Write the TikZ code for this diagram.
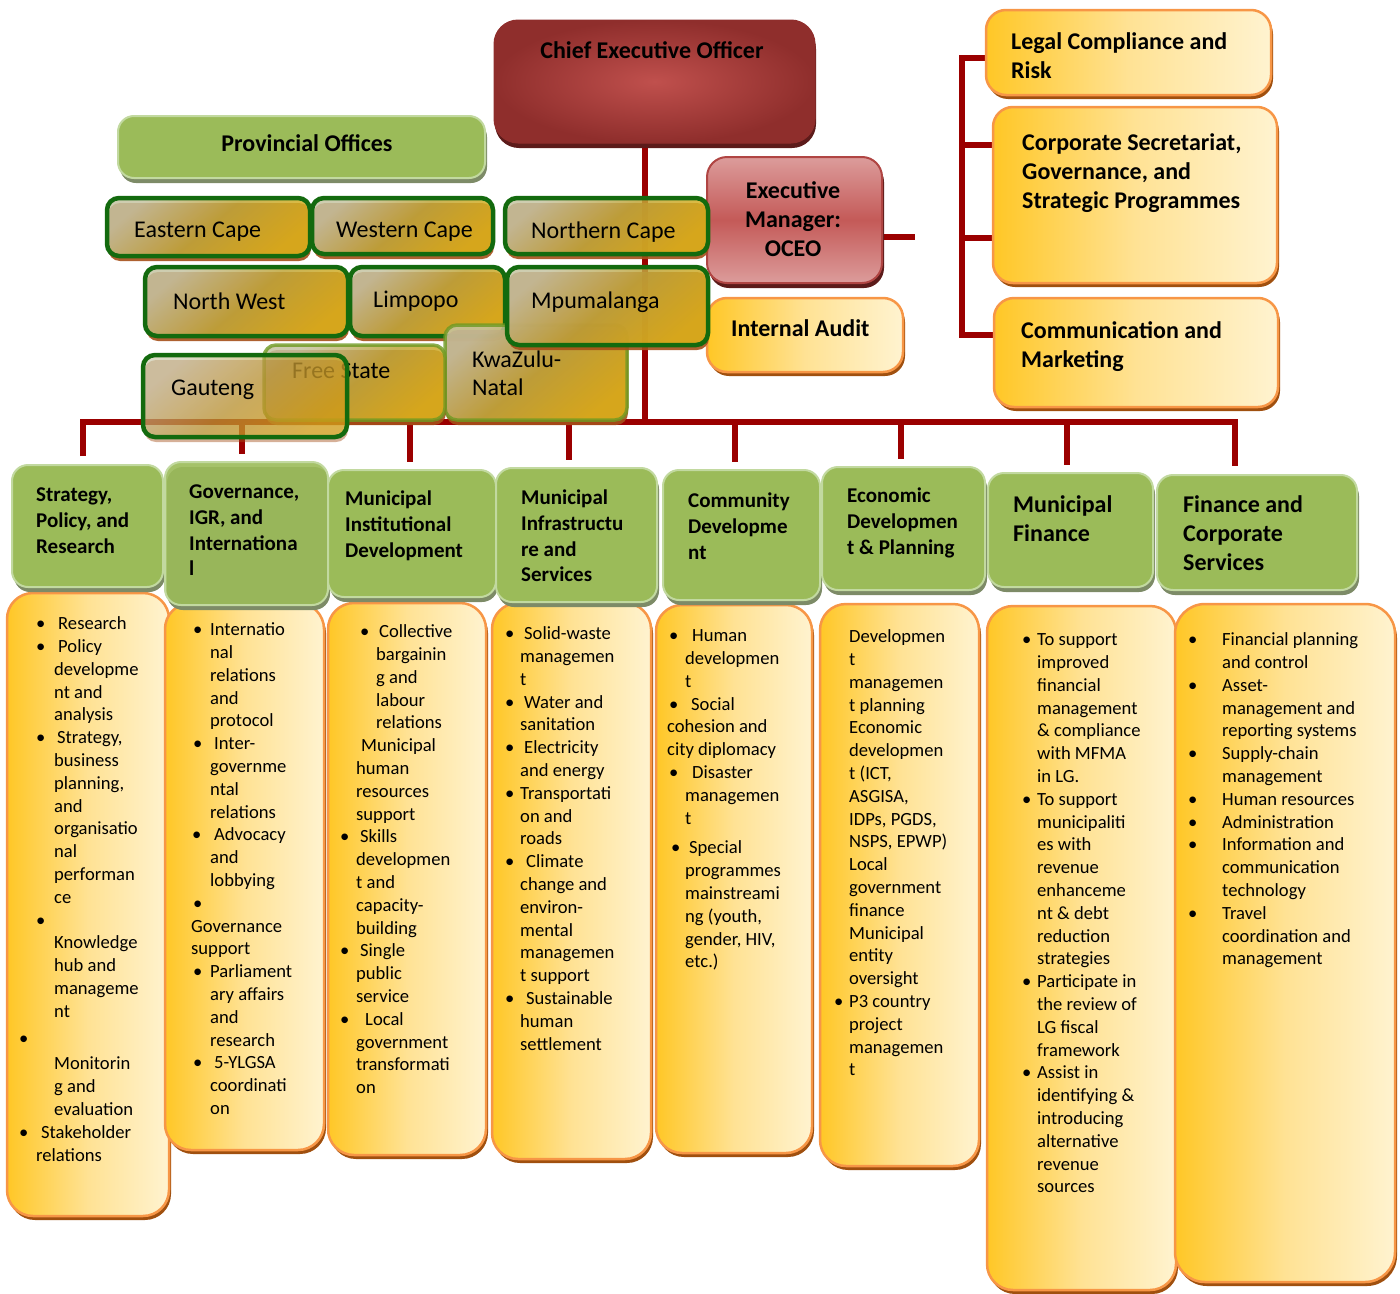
\documentclass[tikz,border=0pt]{standalone}
\usepackage{fontspec}
\setmainfont{Carlito}
\usetikzlibrary{shadows,backgrounds}

\definecolor{linered}{HTML}{9B0000}
\definecolor{ceodark}{HTML}{8F2E2C}
\definecolor{ceomid}{HTML}{C0504D}
\definecolor{redshade}{HTML}{5C1B1A}
\definecolor{execlight}{HTML}{DC9C9B}
\definecolor{execmid}{HTML}{C45A58}
\definecolor{execedge}{HTML}{B04543}
\definecolor{yelstrong}{HTML}{FFC726}
\definecolor{yelmid}{HTML}{FFE294}
\definecolor{yelpale}{HTML}{FFF3D0}
\definecolor{yeledge}{HTML}{F79646}
\definecolor{yelshade}{HTML}{A0500F}
\definecolor{hdgreen}{HTML}{9BBB59}
\definecolor{hdlight}{HTML}{C2D9A0}
\definecolor{hdshade}{HTML}{7D8B67}
\definecolor{provtop}{HTML}{C6C4A2}
\definecolor{provmid}{HTML}{C0A63A}
\definecolor{provbot}{HTML}{DDB318}
\definecolor{provedge}{HTML}{136A0E}
\definecolor{provedgelt}{HTML}{6E9A22}
\definecolor{provshade}{HTML}{A5501A}

\newcommand{\bodyfont}{\fontsize{18.6}{22.8}\selectfont}
\newcommand{\headfont}{\fontsize{21}{25.8}\selectfont\bfseries}
\newcommand{\bigfont}{\fontsize{24}{29}\selectfont\bfseries}
\newcommand{\provfont}{\fontsize{24}{28}\selectfont}

\newcommand{\orgbox}[5] {\node at (#1) (#2) [#3, minimum width=#4, minimum height=#5] {};}
\newcommand{\orgtext}[4] {\node at (#1) (#2) [#3] {#4};}
\newcommand{\bul}[2]{\hspace*{#1pt}\makebox[#2pt][l]{\textbullet}}
\newcommand{\ind}[1]{\hspace*{#1pt}}

\tikzset{
  orgline/.style={draw=linered, line width=6pt},
  ceobox/.style={rectangle, rounded corners=24pt, draw=ceodark, line width=1pt,
    inner color=ceomid, outer color=ceodark,
    drop shadow={shadow xshift=1pt, shadow yshift=-5pt, fill=redshade, opacity=1}},
  execbox/.style={rectangle, rounded corners=20pt, draw=execedge, line width=2pt,
    top color=execlight, bottom color=execlight, middle color=execmid,
    drop shadow={shadow xshift=2pt, shadow yshift=-5pt, fill=redshade, opacity=1}},
  yelbox/.style={rectangle, rounded corners=20pt, draw=yeledge, line width=2.5pt,
    left color=yelstrong, right color=yelpale, middle color=yelmid,
    drop shadow={shadow xshift=2pt, shadow yshift=-4pt, fill=yelshade, opacity=1}},
  greenbox/.style={rectangle, rounded corners=16pt, fill=hdgreen, draw=hdlight, line width=2pt,
    drop shadow={shadow xshift=2pt, shadow yshift=-5pt, fill=hdshade, opacity=1}},
  provbox/.style={rectangle, rounded corners=12pt, draw=provedge, line width=4.5pt,
    top color=provtop, bottom color=provbot, middle color=provmid, shading angle=40,
    fill opacity=0.85,
    drop shadow={shadow xshift=1pt, shadow yshift=-5pt, fill=provshade, opacity=0.9}},
  provfaint/.style={provbox, draw=provedgelt, line width=3.5pt, draw opacity=0.8},
  provclear/.style={rectangle, rounded corners=12pt, draw=provedge, line width=4.5pt,
    top color=provtop, bottom color=provbot, middle color=provmid, shading angle=40,
    fill opacity=0.6,
    drop shadow={shadow xshift=1pt, shadow yshift=-5pt, fill=provshade, opacity=0.45}},
  toptext/.style={inner sep=0pt, font=\bigfont},
  provtext/.style={inner sep=0pt, anchor=west, font=\provfont},
  headtext/.style={inner sep=0pt, anchor=north west, align=left, font=\headfont},
  bodytext/.style={inner sep=0pt, anchor=north west, align=left, font=\bodyfont}
}

\begin{document}
\begin{tikzpicture}[x=1pt, y=-1pt]

\useasboundingbox (0,0) rectangle (1400,1293);

% top of the chart
\orgbox {654.5,81.5}{ceo}{ceobox}{321}{123}
\orgtext {652,50}{ceotxt}{toptext}{Chief Executive Officer}
\orgbox {794.5,220}{exec}{execbox}{175}{126}
\orgtext {793,219}{exectxt}{toptext, align=center}{Executive\\Manager:\\OCEO}
\orgbox {805,335}{audit}{yelbox}{196}{74}
\orgtext {731,328}{audittxt}{toptext, anchor=west}{Internal Audit}

\orgbox {1128.5,52.5}{legal}{yelbox}{285}{85}
\orgtext {1011,28.7}{legaltxt}{toptext, anchor=north west, align=left}{\strut Legal Compliance and\\Risk}
\orgbox {1135,195}{corp}{yelbox}{284}{176}
\orgtext {1022,129.7}{corptxt}{toptext, anchor=north west, align=left}{\strut Corporate Secretariat,\\Governance, and\\Strategic Programmes}
\orgbox {1136,352.5}{comms}{yelbox}{284}{109}
\orgtext {1021,317.7}{commstxt}{toptext, anchor=north west, align=left}{\strut Communication and\\Marketing}

% provinces
\orgbox {301.5,147}{provoff}{greenbox}{367}{62}
\orgtext {307,143}{provofftxt}{toptext}{Provincial Offices}

\orgbox {208.5,227}{ecape}{provbox}{203}{58}
\orgtext {134,232}{ecapetxt}{provtext}{Eastern Cape}
\orgbox {402.5,226}{wcape}{provbox}{181}{56}
\orgtext {336,232}{wcapetxt}{provtext}{Western Cape}
\orgbox {606.5,226}{ncape}{provbox}{203}{56}
\orgtext {531,232}{ncapetxt}{provtext}{Northern Cape}
\orgbox {246.5,301.5}{nwest}{provbox}{203}{69}
\orgtext {173,301}{nwesttxt}{provtext}{North West}
\orgbox {427.5,301.5}{limpopo}{provbox}{155}{69}
\orgtext {373,301}{limpopotxt}{provtext}{Limpopo}
\orgbox {536,372.5}{kzn}{provfaint}{182}{95}
\orgtext {472,347.4}{kzntxt}{provtext, anchor=north west, align=left}{\strut KwaZulu-\\Natal}
\orgbox {607.5,306}{mpuma}{provbox}{201}{78}
\orgtext {531,302}{mpumatxt}{provtext}{Mpumalanga}
\orgbox {354.5,382.5}{fstate}{provfaint}{181}{75}
\orgtext {292,371}{fstatetxt}{provtext}{Free State}
\orgbox {245,396}{gauteng}{provclear}{204}{82}
\orgtext {171,390}{gautengtxt}{provtext}{Gauteng}

% function columns
\orgbox {88,904.5}{bx1}{yelbox, rounded corners=26pt}{162}{623}
\orgbox {244.5,876.5}{bx2}{yelbox, rounded corners=26pt}{159}{547}
\orgbox {407,879}{bx3}{yelbox, rounded corners=26pt}{158}{552}
\orgbox {571.5,881}{bx4}{yelbox, rounded corners=26pt}{159}{556}
\orgbox {734,879}{bx5}{yelbox, rounded corners=26pt}{156}{548}
\orgbox {899.5,885}{bx6}{yelbox, rounded corners=26pt}{159}{562}
\orgbox {1081.5,948}{bx7}{yelbox, rounded corners=26pt}{189}{684}
\orgbox {1285,943}{bx8}{yelbox, rounded corners=30pt}{220}{678}

\orgbox {87.5,526}{hd1}{greenbox}{151}{122}
\orgbox {246.5,533.5}{hd2}{greenbox, fill opacity=0.9}{163}{143}
\orgbox {412,533.5}{hd3}{greenbox}{168}{127}
\orgbox {576.5,535}{hd4}{greenbox}{161}{134}
\orgbox {741.5,535}{hd5}{greenbox}{157}{130}
\orgbox {903.5,528.5}{hd6}{greenbox}{163}{123}
\orgbox {1070.5,530}{hd7}{greenbox}{165}{114}
\orgbox {1257,532.5}{hd8}{greenbox}{200}{115}

\orgtext {36,483.2}{hd1txt}{headtext}{\strut Strategy,\\Policy, and\\Research}
\orgtext {189,480.2}{hd2txt}{headtext}{\strut Governance,\\IGR, and\\Internationa\\l}
\orgtext {345,487.2}{hd3txt}{headtext}{\strut Municipal\\Institutional\\Development}
\orgtext {521,486.2}{hd4txt}{headtext}{\strut Municipal\\Infrastructu\\re and\\Services}
\orgtext {688,489.2}{hd5txt}{headtext}{\strut Community\\Developme\\nt}
\orgtext {847,484.2}{hd6txt}{headtext}{\strut Economic\\Developmen\\t \& Planning}
\orgtext {1013,491.7}{hd7txt}{headtext, font=\bigfont}{\strut Municipal\\Finance}
\orgtext {1183,491.7}{hd8txt}{headtext, font=\bigfont}{\strut Finance and\\Corporate\\Services}

\orgtext {19,613.5}{bx1txt}{bodytext}{\strut\bul{17}{22}Research\\
\bul{17}{22}Policy\\ \ind{35}developme\\ \ind{35}nt and\\ \ind{35}analysis\\
\bul{17}{21}Strategy,\\ \ind{35}business\\ \ind{35}planning,\\ \ind{35}and\\
\ind{35}organisatio\\ \ind{35}nal\\ \ind{35}performan\\ \ind{35}ce\\
\bul{17}{0}\\ \ind{35}Knowledge\\ \ind{35}hub and\\ \ind{35}manageme\\ \ind{35}nt\\[4pt]
\bul{0}{0}\\[3pt] \ind{35}Monitorin\\ \ind{35}g and\\ \ind{35}evaluation\\
\bul{0}{22}Stakeholder\\ \ind{17}relations}

\orgtext {191,619.5}{bx2txt}{bodytext}{\strut\bul{2}{17}Internatio\\
\ind{19}nal\\ \ind{19}relations\\ \ind{19}and\\ \ind{19}protocol\\
\bul{2}{21}Inter-\\ \ind{19}governme\\ \ind{19}ntal\\ \ind{19}relations\\
\bul{1}{22}Advocacy\\ \ind{19}and\\ \ind{19}lobbying\\
\bul{2}{0}\\ Governance\\ support\\
\bul{2}{17}Parliament\\ \ind{19}ary affairs\\ \ind{19}and\\ \ind{19}research\\
\bul{2}{21}5-YLGSA\\ \ind{19}coordinati\\ \ind{19}on}

\orgtext {340,621.5}{bx3txt}{bodytext}{\strut\bul{20}{19}Collective\\
\ind{36}bargainin\\ \ind{36}g and\\ \ind{36}labour\\ \ind{36}relations\\
\ind{21}Municipal\\ \ind{16}human\\ \ind{16}resources\\ \ind{16}support\\
\bul{0}{20}Skills\\ \ind{16}developmen\\ \ind{16}t and\\ \ind{16}capacity-\\ \ind{16}building\\
\bul{0}{20}Single\\ \ind{16}public\\ \ind{16}service\\
\bul{0}{25}Local\\ \ind{16}government\\ \ind{16}transformati\\ \ind{16}on}

\orgtext {503,623.5}{bx4txt}{bodytext}{\strut\bul{2}{19}Solid-waste\\
\ind{17}managemen\\ \ind{17}t\\
\bul{2}{19}Water and\\ \ind{17}sanitation\\
\bul{2}{19}Electricity\\ \ind{17}and energy\\
\bul{2}{15}Transportati\\ \ind{17}on and\\ \ind{17}roads\\
\bul{2}{21}Climate\\ \ind{17}change and\\ \ind{17}environ-\\ \ind{17}mental\\
\ind{17}managemen\\ \ind{17}t support\\
\bul{2}{21}Sustainable\\ \ind{17}human\\ \ind{17}settlement}

\orgtext {667,625.5}{bx5txt}{bodytext}{\strut\bul{2}{23}Human\\
\ind{18}developmen\\ \ind{18}t\\
\bul{2}{22}Social\\ cohesion and\\ city diplomacy\\
\bul{2}{23}Disaster\\ \ind{18}managemen\\ \ind{18}t\\[7pt]
\bul{4}{18}Special\\ \ind{18}programmes\\ \ind{18}mainstreami\\ \ind{18}ng (youth,\\
\ind{18}gender, HIV,\\ \ind{18}etc.)}

\orgtext {834,626.5}{bx6txt}{bodytext}{\strut\ind{15}Developmen\\
\ind{15}t\\ \ind{15}managemen\\ \ind{15}t planning\\ \ind{15}Economic\\
\ind{15}developmen\\ \ind{15}t (ICT,\\ \ind{15}ASGISA,\\ \ind{15}IDPs, PGDS,\\
\ind{15}NSPS, EPWP)\\ \ind{15}Local\\ \ind{15}government\\ \ind{15}finance\\
\ind{15}Municipal\\ \ind{15}entity\\ \ind{15}oversight\\
\bul{0}{15}P3 country\\ \ind{15}project\\ \ind{15}managemen\\ \ind{15}t}

\orgtext {1022,629.5}{bx7txt}{bodytext}{\strut\bul{0}{15}To support\\
\ind{15}improved\\ \ind{15}financial\\ \ind{15}management\\ \ind{15}\& compliance\\
\ind{15}with MFMA\\ \ind{15}in LG.\\
\bul{0}{15}To support\\ \ind{15}municipaliti\\ \ind{15}es with\\ \ind{15}revenue\\
\ind{15}enhanceme\\ \ind{15}nt \& debt\\ \ind{15}reduction\\ \ind{15}strategies\\
\bul{0}{15}Participate in\\ \ind{15}the review of\\ \ind{15}LG fiscal\\ \ind{15}framework\\
\bul{0}{15}Assist in\\ \ind{15}identifying \&\\ \ind{15}introducing\\
\ind{15}alternative\\ \ind{15}revenue\\ \ind{15}sources}

\orgtext {1188,629.5}{bx8txt}{bodytext}{\strut\bul{0}{34}Financial planning\\
\ind{34}and control\\
\bul{0}{34}Asset-\\ \ind{34}management and\\ \ind{34}reporting systems\\
\bul{0}{34}Supply-chain\\ \ind{34}management\\
\bul{0}{34}Human resources\\
\bul{0}{34}Administration\\
\bul{0}{34}Information and\\ \ind{34}communication\\ \ind{34}technology\\
\bul{0}{34}Travel\\ \ind{34}coordination and\\ \ind{34}management}

% red lines under the boxes
\coordinate (cbar) at (645,422);
\coordinate (execend) at (915,237);
\coordinate (rtop) at (962,58);
\coordinate (rmidA) at (962,145);
\coordinate (rmidB) at (962,238);
\coordinate (rbot) at (962,335);
\foreach \i/\x in {1/83,2/242,3/410,4/569,5/735,6/901,7/1067,8/1235}
  \coordinate (drop\i) at (\x,422);

\begin{scope}[on background layer]
\draw [orgline] (ceo.south -| cbar) -- (cbar);
\draw [orgline, shorten <=8pt, shorten >=8pt] (hd1.north -| drop1) -- (drop1) -- (drop8) -- (hd8.north -| drop8);
\foreach \i in {2,...,7}
  \draw [orgline, shorten >=7pt] (drop\i) -- (drop\i |- hd\i.north);
\draw [orgline] (execend -| exec.east) -- (execend);
\draw [orgline] (rtop -| legal.west) -- (rtop) -- (rbot) -- (rbot -| comms.west);
\draw [orgline] (rmidA) -- (rmidA -| corp.west);
\draw [orgline] (rmidB) -- (rmidB -| corp.west);
\end{scope}

\end{tikzpicture}
\end{document}
